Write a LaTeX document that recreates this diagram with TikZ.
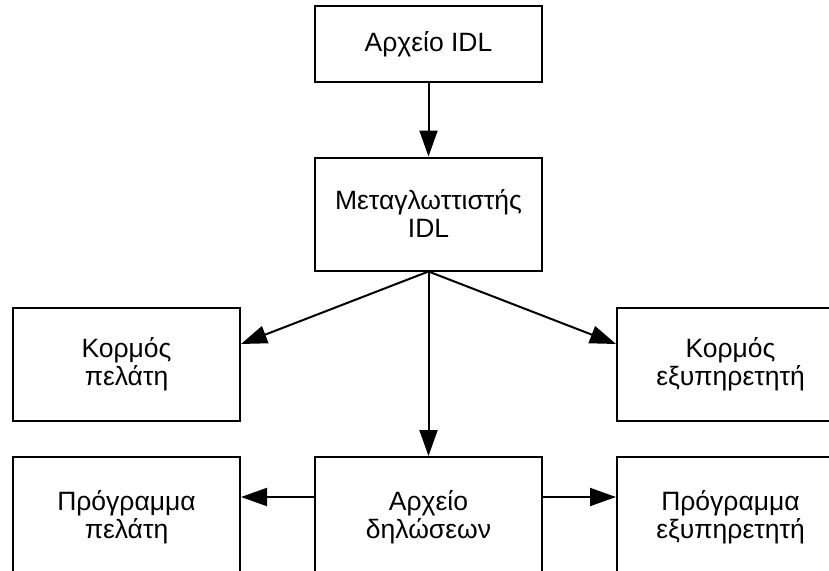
\documentclass[tikz,border=0pt]{standalone}
\usepackage{fontspec}
\setmainfont{Liberation Sans}
\usetikzlibrary{arrows.meta}

\begin{document}
\begin{tikzpicture}[x=1pt,y=1pt,yscale=-1,xscale=1,
  box/.style={draw,line width=2pt,minimum width=227pt,minimum height=113pt,align=center,inner sep=0pt,font=\fontsize{26.5}{28}\selectfont},
  low/.style={box,minimum height=120pt},
  flow/.style={line width=2pt,-{Triangle[length=26pt,width=18pt]}}]
\clip (0,0) rectangle (829,570);

% Text Node
\node [box,minimum height=76pt] (idl) at (428.5,44) {Αρχείο IDL};
% Text Node
\node [box] (comp) at (428.5,214) {Μεταγλωττιστής\\IDL};
% Text Node
\node [box] (kp) at (126.5,364.5) {Κορμός\\πελάτη};
% Text Node
\node [box] (ke) at (730.5,364.5) {Κορμός\\εξυπηρετητή};
% Text Node
\node [low] (pp) at (126.5,517) {Πρόγραμμα\\πελάτη};
% Text Node
\node [low] (decl) at (428.5,517) {Αρχείο\\δηλώσεων};
% Text Node
\node [low] (pe) at (730.5,517) {Πρόγραμμα\\εξυπηρετητή};

%Straight Lines
\draw [flow] (idl) -- (comp);
%Straight Lines
\draw [flow] (comp.south) -- ([yshift=-20.5pt]kp.east);
%Straight Lines
\draw [flow] (comp.south) -- ([yshift=-20.5pt]ke.west);
%Straight Lines
\draw [flow] (comp) -- (decl);
%Straight Lines
\draw [flow] ([yshift=-20pt]decl.west) -- ([yshift=-20pt]pp.east);
%Straight Lines
\draw [flow] ([yshift=-20pt]decl.east) -- ([yshift=-20pt]pe.west);

\end{tikzpicture}
\end{document}
